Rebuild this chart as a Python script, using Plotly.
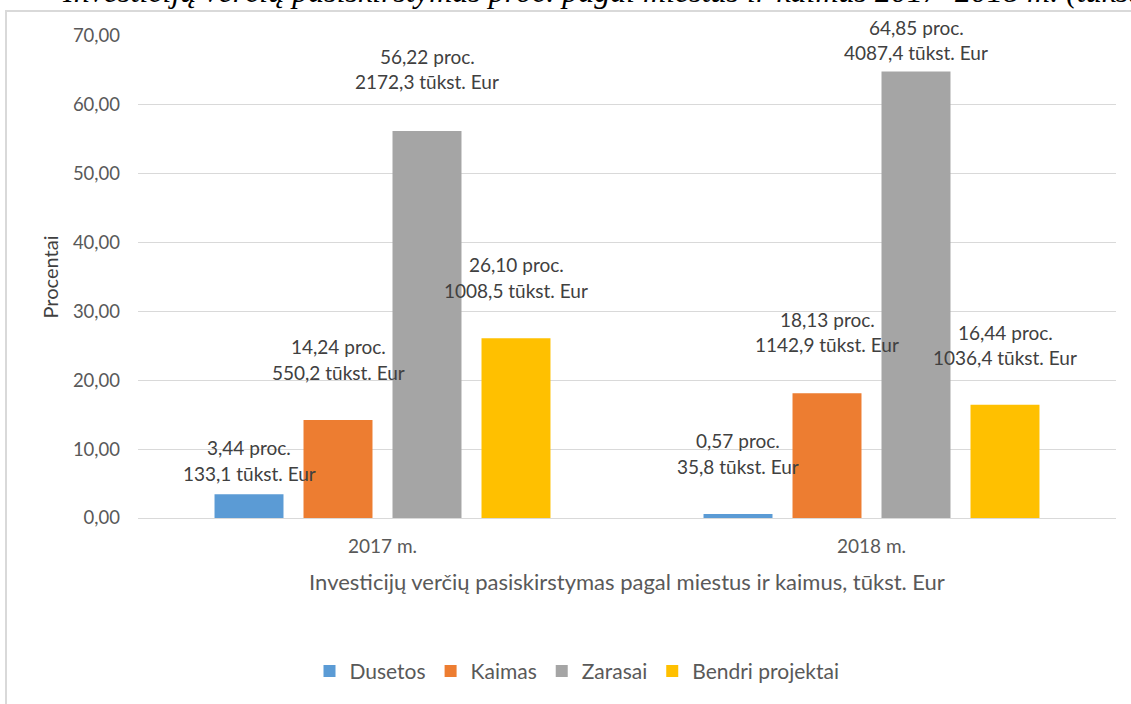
import plotly.graph_objects as go

# ---- data ----
years = ["2017 m.", "2018 m."]
series_names = ["Dusetos", "Kaimas", "Zarasai", "Bendri projektai"]
percent_values = {
    "Dusetos": [3.44, 0.57],
    "Kaimas": [14.24, 18.13],
    "Zarasai": [56.22, 64.85],
    "Bendri projektai": [26.10, 16.44],
}
amount_values = {
    "Dusetos": ["133,1", "35,8"],
    "Kaimas": ["550,2", "1142,9"],
    "Zarasai": ["2172,3", "4087,4"],
    "Bendri projektai": ["1008,5", "1036,4"],
}
y_ticks = [0, 10, 20, 30, 40, 50, 60, 70]
chart_title = "Investicijų verčių pasiskirstymas proc. pagal miestus ir kaimus 2017–2018 m. (tūkst. Eur)"
x_title = "Investicijų verčių pasiskirstymas pagal miestus ir kaimus, tūkst. Eur"
y_title = "Procentai"

# ---- style ----
colors = ["#5B9BD5", "#ED7D31", "#A5A5A5", "#FFC000"]
# label lift above bar top (px) for the lower line, per series per year
label_lift = {
    "Dusetos": [21, 48],
    "Kaimas": [47.5, 48.6],
    "Zarasai": [49, 18.6],
    "Bendri projektai": [48, 47],
}
FONT = "Lato, 'Open Sans', sans-serif"
W, H = 1131, 704
ML, MR, MT, MB = 138, 15, 36, 184
PW = W - ML - MR
PH = H - MT - MB
slot_px = 89
line_gap = 25.5

fig = go.Figure()
for name, col in zip(series_names, colors):
    fig.add_trace(go.Bar(
        name=name, x=years, y=percent_values[name],
        marker=dict(color=col, line=dict(width=0)),
    ))

def pct(v):
    return f"{v:.2f}".replace(".", ",")

annotations = []
for i, name in enumerate(series_names):
    xs = (i - 1.5) * slot_px
    for j, yr in enumerate(years):
        v = percent_values[name][j]
        lift = label_lift[name][j]
        annotations.append(dict(
            x=yr, xref="x", y=v, yref="y", xshift=xs, yshift=lift,
            text=f"{amount_values[name][j]} tūkst. Eur", showarrow=False,
            xanchor="center", yanchor="middle",
            font=dict(family=FONT, size=19, color="#404040"),
        ))
        annotations.append(dict(
            x=yr, xref="x", y=v, yref="y", xshift=xs, yshift=lift + line_gap,
            text=f"{pct(v)} proc.", showarrow=False,
            xanchor="center", yanchor="middle",
            font=dict(family=FONT, size=19, color="#404040"),
        ))

# chart title, partially cut by page top
annotations.append(dict(
    x=(60 - ML) / PW, xref="paper", y=1 + (MT - 10.5) / PH, yref="paper",
    text=f"<i>{chart_title}</i>", showarrow=False, xanchor="left", yanchor="bottom",
    font=dict(family="Liberation Serif, serif", size=32, color="#000000"),
))

fig.update_layout(
    width=W, height=H,
    margin=dict(l=ML, r=MR, t=MT, b=MB, pad=0),
    paper_bgcolor="white", plot_bgcolor="white",
    barmode="group", bargap=0.272, bargroupgap=0.225,
    separators=", ",
    font=dict(family=FONT, size=18, color="#595959"),
    showlegend=True,
    legend=dict(
        orientation="h", x=(577 - ML) / PW, xanchor="center",
        y=(520 - 674) / PH, yanchor="middle",
        font=dict(family=FONT, size=21, color="#595959"),
        itemwidth=30, traceorder="normal",
    ),
    annotations=annotations,
    shapes=[dict(
        type="rect", xref="paper", yref="paper",
        x0=(6 - ML) / PW, x1=(1150 - ML) / PW,
        y0=(520 - 730) / PH, y1=1 + (MT - 11) / PH,
        line=dict(color="#D9D9D9", width=2), layer="below",
    )],
)
fig.update_xaxes(
    showgrid=False, showline=False, ticks="", ticklabelstandoff=15,
    tickfont=dict(family=FONT, size=19, color="#595959"),
    title=dict(text=x_title, font=dict(family=FONT, size=22, color="#595959"), standoff=18),
)
fig.update_yaxes(
    range=[0, 70], tickvals=y_ticks, tickformat=".2f",
    showgrid=True, gridcolor="#D9D9D9", gridwidth=1,
    zeroline=True, zerolinecolor="#D9D9D9", zerolinewidth=1,
    showline=False, ticks="", ticklabelstandoff=17,
    tickfont=dict(family=FONT, size=18.5, color="#595959"),
    title=dict(text=y_title, font=dict(family=FONT, size=20, color="#404040"), standoff=8),
)

fig.write_html(
    "out.html",
    config={"displayModeBar": False},
    post_script="document.body.style.margin='0';document.body.style.overflow='hidden';",
)
